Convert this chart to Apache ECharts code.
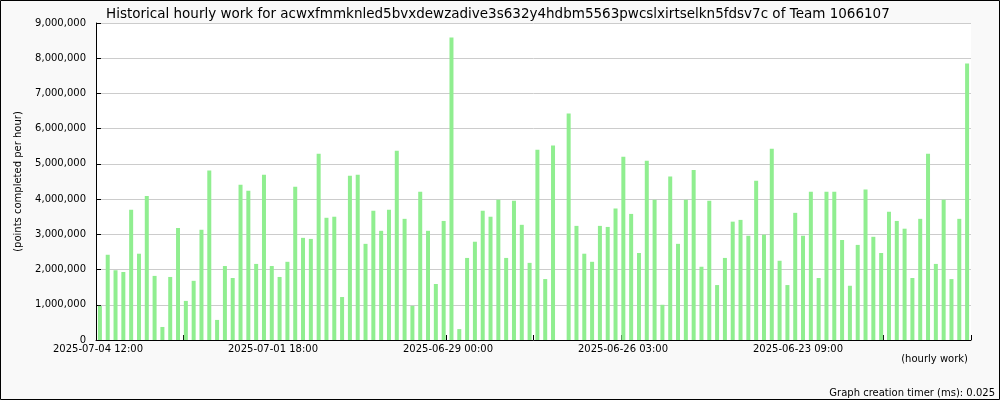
<!DOCTYPE html>
<html>
<head>
<meta charset="utf-8">
<script src="https://cdn.jsdelivr.net/npm/echarts@6/dist/echarts.min.js"></script>
<style>
  html, body { margin: 0; padding: 0; background: #f9f9f9; }
  #chart { width: 1000px; height: 400px; }
</style>
</head>
<body>
<div id="chart"></div>
<script>
// ---- data ----
const titleText = 'Historical hourly work for acwxfmmknled5bvxdewzadive3s632y4hdbm5563pwcslxirtselkn5fdsv7c of Team 1066107';
const yAxisName = '(points completed per hour)';
const xAxisName = '(hourly work)';
const footerText = 'Graph creation timer (ms): 0.025';

// points completed per hour, newest first (one bar per sample)
const pointsPerHour = [
  970000, 2420000, 1980000, 1930000, 3700000, 2450000, 4090000, 1820000, 370000, 1790000,
  3180000, 1110000, 1680000, 3130000, 4810000, 570000, 2100000, 1760000, 4410000, 4240000,
  2160000, 4690000, 2100000, 1790000, 2220000, 4350000, 2900000, 2870000, 5290000, 3470000,
  3500000, 1220000, 4660000, 4690000, 2730000, 3670000, 3100000, 3700000, 5370000, 3440000,
  970000, 4210000, 3100000, 1590000, 3380000, 8590000, 310000, 2330000, 2790000, 3670000,
  3500000, 3980000, 2330000, 3950000, 3270000, 2190000, 5400000, 1730000, 5520000, 0,
  6430000, 3240000, 2450000, 2220000, 3240000, 3210000, 3730000, 5200000, 3580000, 2470000,
  5090000, 3980000, 1000000, 4640000, 2730000, 3980000, 4830000, 2080000, 3950000, 1560000,
  2330000, 3360000, 3410000, 2960000, 4520000, 2990000, 5430000, 2250000, 1560000, 3610000,
  2960000, 4210000, 1760000, 4210000, 4210000, 2840000, 1540000, 2700000, 4270000, 2930000,
  2470000, 3640000, 3380000, 3160000, 1760000, 3440000, 5290000, 2160000, 3980000, 1730000,
  3440000, 7850000
];
const categories = pointsPerHour.map((v, i) => String(i + 1));

// bottom tick labels (evenly spaced ticks, label on every second tick)
const tickLabels = ['2025-07-04 12:00', '', '2025-07-01 18:00', '', '2025-06-29 00:00', '',
                    '2025-06-26 03:00', '', '2025-06-23 09:00', '', ''];

const yMax = 9000000;
const yStep = 1000000;

// ---- chart ----
const chart = echarts.init(document.getElementById('chart'), null, { renderer: 'canvas' });
const FONT = 'DejaVu Sans';

chart.setOption({
  backgroundColor: '#f9f9f9',
  animation: false,
  textStyle: { fontFamily: FONT },
  title: {
    text: titleText,
    left: 101,
    top: 2,
    textStyle: { fontFamily: FONT, fontSize: 13.5, fontWeight: 'normal', color: '#000' }
  },
  grid: {
    left: 96, right: 29, top: 23, bottom: 60,
    show: true, backgroundColor: '#ffffff', borderWidth: 0
  },
  xAxis: [
    {
      type: 'category',
      data: categories,
      boundaryGap: true,
      axisLine: { show: true, lineStyle: { color: '#000', width: 1 } },
      axisTick: { show: false },
      axisLabel: { show: false },
      splitLine: { show: false }
    },
    {
      type: 'value',
      position: 'bottom',
      min: 0,
      max: tickLabels.length - 1,
      interval: 1,
      axisLine: { show: false },
      axisTick: { show: true, inside: true, length: 5, lineStyle: { color: '#000' } },
      splitLine: { show: false },
      axisLabel: {
        show: true,
        margin: 4,
        padding: [0, 0, 0, 4],
        fontFamily: FONT,
        fontSize: 10,
        color: '#000',
        showMinLabel: true,
        showMaxLabel: true,
        formatter: v => tickLabels[Math.round(v)] || ''
      }
    }
  ],
  yAxis: {
    type: 'value',
    min: 0,
    max: yMax,
    interval: yStep,
    name: yAxisName,
    nameLocation: 'middle',
    nameRotate: 90,
    nameGap: 73,
    nameTextStyle: { fontFamily: FONT, fontSize: 10, color: '#000' },
    axisLine: { show: true, lineStyle: { color: '#000', width: 1 } },
    axisTick: { show: true, inside: true, length: 5, lineStyle: { color: '#000' } },
    axisLabel: {
      fontFamily: FONT, fontSize: 10, color: '#000', margin: 10,
      formatter: v => v.toLocaleString('en-US')
    },
    splitLine: { show: true, lineStyle: { color: '#cccccc', width: 1 } }
  },
  series: [{
    type: 'bar',
    xAxisIndex: 0,
    data: pointsPerHour,
    barWidth: 4,
    itemStyle: { color: '#90ee90' }
  }],
  graphic: [
    {
      type: 'rect',
      shape: { x: 0.5, y: 0.5, width: 999, height: 399 },
      style: { fill: null, stroke: '#000', lineWidth: 1 },
      silent: true, z: 100
    },
    {
      type: 'text',
      x: 968, y: 359,
      style: { text: xAxisName, font: '10px "DejaVu Sans"', fill: '#000', textAlign: 'right', textVerticalAlign: 'middle' }
    },
    {
      type: 'text',
      x: 995, y: 393,
      style: { text: footerText, font: '10px "DejaVu Sans"', fill: '#000', textAlign: 'right', textVerticalAlign: 'middle' }
    }
  ]
});
</script>
</body>
</html>
